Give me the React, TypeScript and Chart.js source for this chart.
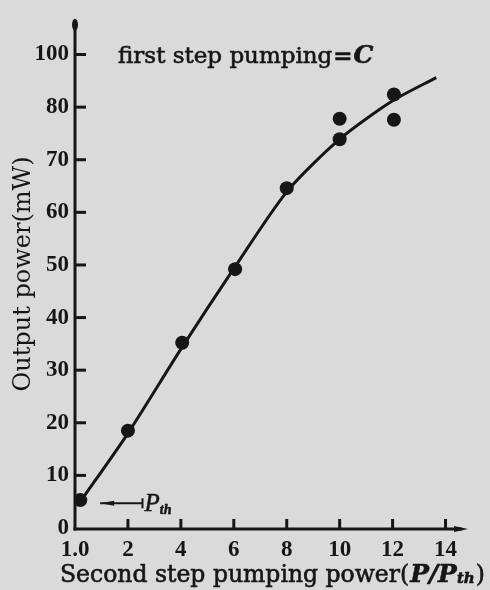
import React, { useEffect, useRef } from "react";
import { Chart, registerables } from "chart.js";

Chart.register(...registerables);

// ---- data ----
const xTickValues = [0, 2, 4, 6, 8, 10, 12, 14];
const xTickLabels = ["1.0", "2", "4", "6", "8", "10", "12", "14"];
const yTickValues = [0, 10, 20, 30, 40, 50, 60, 70, 80, 90];
const yTickLabels = ["0", "10", "20", "30", "40", "50", "60", "70", "80", "100"];

const measuredX = [0.2, 2.0, 4.05, 6.05, 8.0, 10.0, 10.0, 12.05, 12.05];
const measuredY = [5.3, 18.5, 35.2, 49.2, 64.6, 73.9, 77.8, 82.4, 77.6];

const fitX = [0.2, 2, 4, 6, 8, 10, 12, 13.65];
const fitY = [5.0, 18.0, 34.0, 49.3, 63.9, 73.9, 81.2, 85.6];

const yTitle = "Output power(mW)";
const xTitleMain = "Second step pumping power(";
const xTitleItalic = "P/P";
const xTitleSub = "th";
const xTitleEnd = ")";
const noteText = "first step pumping";
const noteEq = "=";
const noteSymbol = "C";
const thresholdMain = "P";
const thresholdSub = "th";

const INK = "#161616";
const PAPER = "#dadada";
const SERIF = "'DejaVu Serif', serif";
const TIMES = "'Liberation Serif', serif";

function inkText(ctx: any, text: string, x: number, y: number) {
  ctx.fillText(text, x, y);
  ctx.strokeText(text, x, y);
}

const decorPlugin = {
  id: "decor",
  beforeDraw(chart: any) {
    const { ctx, width, height } = chart;
    ctx.save();
    ctx.fillStyle = PAPER;
    ctx.fillRect(0, 0, width, height);
    ctx.restore();
  },
  beforeDatasetsDraw(chart: any) {
    const { ctx, chartArea } = chart;
    const xs = chart.scales.x;
    const ys = chart.scales.y;
    const x0 = xs.getPixelForValue(0);
    const y0 = ys.getPixelForValue(0) + 1;
    ctx.save();
    ctx.strokeStyle = INK;
    ctx.fillStyle = INK;
    ctx.lineCap = "butt";
    ctx.lineWidth = 3;
    // y axis
    ctx.beginPath();
    ctx.moveTo(x0, y0 + 1.5);
    ctx.lineTo(x0, chartArea.top + 4);
    ctx.stroke();
    ctx.beginPath();
    ctx.ellipse(x0, chartArea.top + 5, 3, 6, 0, 0, Math.PI * 2);
    ctx.fill();
    // x axis
    const xEnd = xs.getPixelForValue(14.85);
    ctx.beginPath();
    ctx.moveTo(x0 - 1.5, y0);
    ctx.lineTo(xEnd - 6, y0);
    ctx.stroke();
    ctx.beginPath();
    ctx.moveTo(xEnd - 14, y0 - 3);
    ctx.lineTo(xEnd, y0);
    ctx.lineTo(xEnd - 14, y0 + 3);
    ctx.closePath();
    ctx.fill();
    // inward tick marks
    yTickValues.forEach((v) => {
      if (v === 0) return;
      const py = ys.getPixelForValue(v);
      ctx.beginPath();
      ctx.moveTo(x0, py);
      ctx.lineTo(x0 + 11, py);
      ctx.stroke();
    });
    xTickValues.forEach((v) => {
      if (v === 0) return;
      const px = xs.getPixelForValue(v);
      ctx.beginPath();
      ctx.moveTo(px, y0);
      ctx.lineTo(px, y0 - 10);
      ctx.stroke();
    });
    ctx.restore();
  },
  afterDraw(chart: any) {
    const { ctx } = chart;
    const xs = chart.scales.x;
    const ys = chart.scales.y;
    ctx.save();
    ctx.fillStyle = INK;
    ctx.strokeStyle = INK;
    ctx.lineWidth = 0.6;
    ctx.textBaseline = "alphabetic";
    ctx.textAlign = "left";

    // note: first step pumping = C
    let x = 118;
    const nb = 63;
    ctx.font = `23px ${SERIF}`;
    inkText(ctx, noteText, x, nb);
    x += ctx.measureText(noteText).width + 1;
    ctx.font = `bold 23px ${SERIF}`;
    inkText(ctx, noteEq, x, nb);
    x += ctx.measureText(noteEq).width + 1;
    ctx.font = `italic bold 25px ${SERIF}`;
    inkText(ctx, noteSymbol, x, nb);

    // threshold marker  <-| P_th
    const ay = ys.getPixelForValue(4.7);
    const ax1 = xs.getPixelForValue(0.95);
    const ax2 = xs.getPixelForValue(2.55);
    ctx.lineWidth = 2;
    ctx.beginPath();
    ctx.moveTo(ax1, ay);
    ctx.lineTo(ax2, ay);
    ctx.stroke();
    ctx.beginPath();
    ctx.moveTo(ax1, ay);
    ctx.lineTo(ax1 + 14, ay - 2.5);
    ctx.lineTo(ax1 + 14, ay + 2.5);
    ctx.closePath();
    ctx.fill();
    ctx.beginPath();
    ctx.moveTo(ax2, ay - 5);
    ctx.lineTo(ax2, ay + 5);
    ctx.stroke();
    ctx.lineWidth = 0.5;
    ctx.font = `italic 25px ${TIMES}`;
    let px = ax2 + 2;
    inkText(ctx, thresholdMain, px, ay + 8);
    px += ctx.measureText(thresholdMain).width;
    ctx.font = `italic bold 14px ${TIMES}`;
    inkText(ctx, thresholdSub, px, ay + 11);

    // x axis title
    ctx.lineWidth = 0.6;
    let tx = 60;
    const tb = 582;
    ctx.font = `23.5px ${SERIF}`;
    inkText(ctx, xTitleMain, tx, tb);
    tx += ctx.measureText(xTitleMain).width + 1;
    ctx.font = `italic bold 25px ${SERIF}`;
    inkText(ctx, xTitleItalic, tx, tb);
    tx += ctx.measureText(xTitleItalic).width;
    ctx.font = `italic bold 15px ${SERIF}`;
    inkText(ctx, xTitleSub, tx, tb + 1);
    tx += ctx.measureText(xTitleSub).width + 1;
    ctx.font = `23.5px ${SERIF}`;
    inkText(ctx, xTitleEnd, tx, tb);
    ctx.restore();
  },
};

export default function App() {
  const canvasRef = useRef<HTMLCanvasElement | null>(null);

  useEffect(() => {
    const canvas = canvasRef.current;
    if (!canvas) return;
    const chart = new Chart(canvas, {
      type: "line",
      data: {
        datasets: [
          {
            label: "fit",
            data: fitX.map((x, i) => ({ x, y: fitY[i] })),
            borderColor: INK,
            borderWidth: 3,
            pointRadius: 0,
            fill: false,
            tension: 0.25,
            order: 2,
          },
          {
            label: "measured",
            data: measuredX.map((x, i) => ({ x, y: measuredY[i] })),
            showLine: false,
            pointRadius: 7,
            pointBackgroundColor: INK,
            pointBorderColor: INK,
            pointBorderWidth: 0,
            order: 1,
          },
        ],
      },
      options: {
        responsive: false,
        animation: false,
        events: [],
        layout: { padding: { top: 18, right: 18, left: 0, bottom: 0 } },
        plugins: { legend: { display: false }, tooltip: { enabled: false } },
        scales: {
          x: {
            type: "linear",
            min: 0,
            max: 15,
            grid: { display: false, drawTicks: false },
            border: { display: false },
            afterBuildTicks: (scale: any) => {
              scale.ticks = xTickValues.map((v) => ({ value: v }));
            },
            afterFit: (scale: any) => {
              scale.height = 62;
            },
            ticks: {
              autoSkip: false,
              maxRotation: 0,
              padding: 8,
              color: INK,
              font: { family: TIMES, size: 23, weight: "bold" },
              callback: (value: any) => xTickLabels[xTickValues.indexOf(Number(value))],
            },
          },
          y: {
            type: "linear",
            min: 0,
            max: 96.6,
            grid: { display: false, drawTicks: false },
            border: { display: false },
            afterBuildTicks: (scale: any) => {
              scale.ticks = yTickValues.map((v) => ({ value: v }));
            },
            afterFit: (scale: any) => {
              scale.width = 75;
            },
            title: {
              display: true,
              text: yTitle,
              color: INK,
              font: { family: SERIF, size: 24 },
              padding: { top: 9, bottom: 0 },
            },
            ticks: {
              autoSkip: false,
              padding: 6,
              color: INK,
              font: { family: TIMES, size: 23, weight: "bold" },
              callback: (value: any) => yTickLabels[yTickValues.indexOf(Number(value))],
            },
          },
        },
      },
      plugins: [decorPlugin],
    } as any);
    return () => chart.destroy();
  }, []);

  return (
    <div style={{ position: "absolute", left: 0, top: 0, width: 490, height: 590, background: PAPER }}>
      <canvas ref={canvasRef} width={490} height={590} style={{ display: "block" }} />
    </div>
  );
}
